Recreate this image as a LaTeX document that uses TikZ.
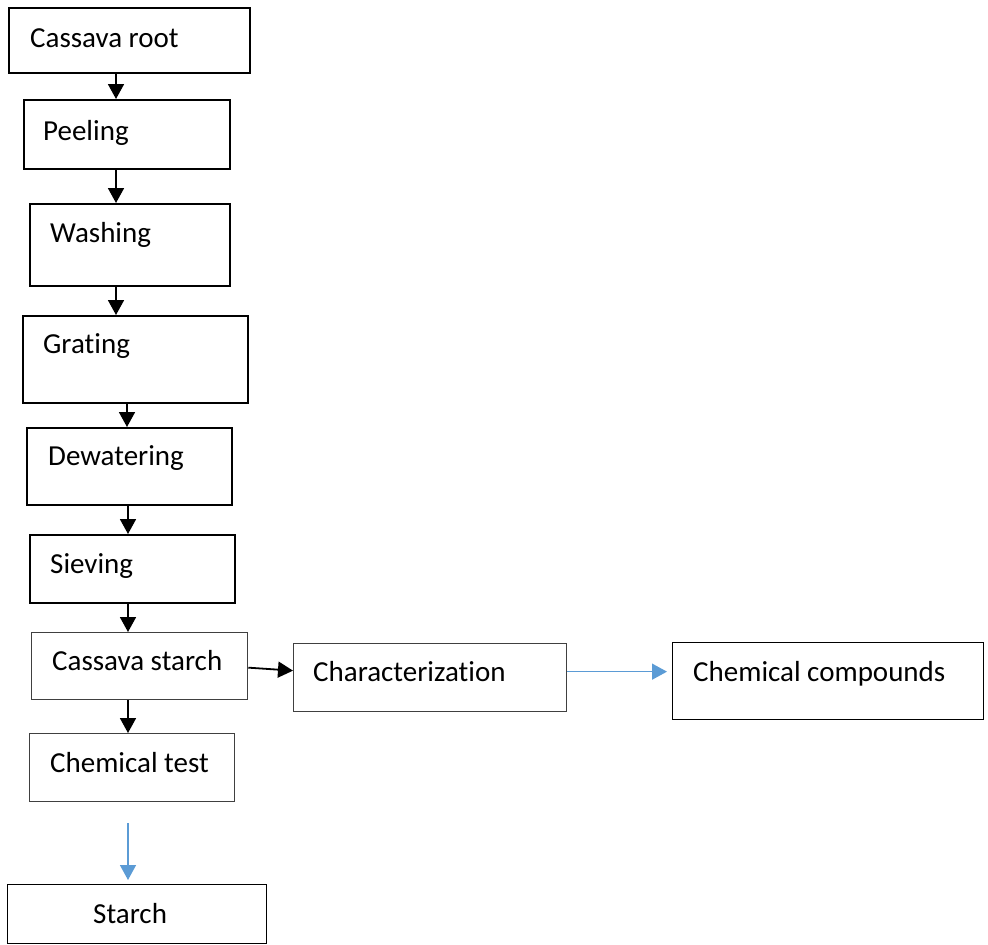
\documentclass[tikz,border=0pt]{standalone}
\usepackage{fontspec}
\setmainfont[Ligatures={NoCommon,NoContextual}]{Carlito}
\usetikzlibrary{arrows.meta}
\definecolor{flowblue}{HTML}{5B9BD5}
\definecolor{thingray}{HTML}{404040}
\tikzset{
  thickbox/.style={draw=black, line width=2pt, rectangle, inner sep=0pt, anchor=north west},
  thinbox/.style={draw=thingray, line width=1.3pt, rectangle, inner sep=0pt, anchor=north west},
  lbl/.style={anchor=base west, inner sep=0pt, font=\fontsize{29}{34}\selectfont},
  blackarr/.style={draw=black, line width=1.8pt, -{Triangle[length=15pt,width=16pt]}},
  bluearr/.style={draw=flowblue, line width=1.4pt, -{Triangle[length=15pt,width=16pt]}}
}
\begin{document}
\begin{tikzpicture}[x=1pt,y=-1pt]
\useasboundingbox (0,0) rectangle (988,945);
% boxes
\node[thickbox, minimum width=241pt, minimum height=65pt] (b1) at (8,7) {};
\node[thickbox, minimum width=206pt, minimum height=69pt] (b2) at (23,99) {};
\node[thickbox, minimum width=200pt, minimum height=82pt] (b3) at (29,203) {};
\node[thickbox, minimum width=225pt, minimum height=87pt] (b4) at (22,315) {};
\node[thickbox, minimum width=205pt, minimum height=77pt] (b5) at (26,427) {};
\node[thickbox, minimum width=205pt, minimum height=68pt] (b6) at (29,534) {};
\node[thinbox, minimum width=216pt, minimum height=67pt] (b7) at (31,632) {};
\node[thinbox, minimum width=205pt, minimum height=68pt] (b8) at (29,733) {};
\node[thinbox, draw=black, minimum width=259pt, minimum height=59pt] (b9) at (7,884) {};
\node[thinbox, minimum width=273pt, minimum height=68pt] (b10) at (293,643) {};
\node[thinbox, draw=black, minimum width=311pt, minimum height=77pt] (b11) at (672,642) {};
% labels
\node[lbl] (t1) at (30,47) {Cassava root};
\node[lbl] (t2) at (43,140) {Peeling};
\node[lbl] (t3) at (50,242) {Washing};
\node[lbl] (t4) at (43,353) {Grat\kern0pt ing};
\node[lbl] (t5) at (48,465) {Dewatering};
\node[lbl] (t6) at (50,573) {Sieving};
\node[lbl] (t7) at (52,670) {Cassava starch};
\node[lbl] (t8) at (50,772) {Chemical test};
\node[lbl] (t9) at (93,923) {Starch};
\node[lbl] (t10) at (313,681) {Characterizat\kern0pt ion};
\node[lbl] (t11) at (693,681) {Chemical compounds};
% arrow columns
\coordinate (cA) at (116,0);
\coordinate (cB) at (127,0);
\coordinate (cC) at (128,0);
% arrows
\draw[blackarr] (b1.south -| cA) -- (b2.north -| cA);
\draw[blackarr] (b2.south -| cA) -- (b3.north -| cA);
\draw[blackarr] (b3.south -| cA) -- (b4.north -| cA);
\draw[blackarr] (b4.south -| cB) -- (b5.north -| cB);
\draw[blackarr] (b5.south -| cC) -- (b6.north -| cC);
\draw[blackarr] (b6.south -| cC) -- (b7.north -| cC);
\draw[blackarr] (b7.south -| cC) -- (b8.north -| cC);
\draw[blackarr] ([yshift=-1.5pt]b7.east) -- ([yshift=7pt]b10.west);
\draw[bluearr, shorten <=21pt, shorten >=4pt] (b8.south -| cC) -- (b9.north -| cC);
\draw[bluearr, shorten >=5pt] ([yshift=6pt]b10.east) -- ([yshift=9.5pt]b11.west);
\end{tikzpicture}
\end{document}
